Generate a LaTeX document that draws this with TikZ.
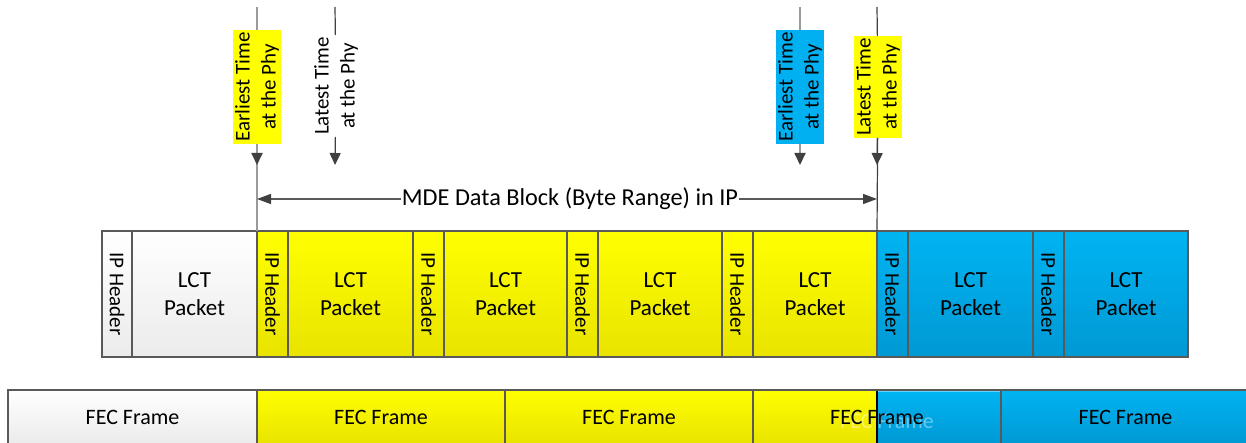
\documentclass[tikz,border=0pt]{standalone}
\usepackage{fontspec}
\setmainfont{Carlito}
\usetikzlibrary{arrows.meta}
\definecolor{ylt}{HTML}{FFFF00}
\definecolor{ydk}{HTML}{E9E300}
\definecolor{blt}{HTML}{00B4F2}
\definecolor{bdk}{HTML}{0099D4}
\definecolor{bsolid}{HTML}{00B0F0}
\definecolor{wdk}{HTML}{EBEBEB}
\definecolor{edge}{HTML}{595959}
\definecolor{lgray}{HTML}{9A9A9A}
\definecolor{dgray}{HTML}{404040}
\newcommand{\iphtext}{\fontsize{21}{24}\selectfont\rotatebox{-90}{IP Header}}
\begin{document}
\begin{tikzpicture}[x=1pt,y=-1pt,
  cell/.style={draw=edge, line width=1.1pt, anchor=north west, minimum height=126pt,
    inner sep=0pt, outer sep=0pt, align=center},
  wcell/.style={cell, top color=white, bottom color=wdk},
  ycell/.style={cell, top color=ylt, bottom color=ydk},
  bcell/.style={cell, top color=blt, bottom color=bdk},
  fcell/.style={draw=edge, line width=1.1pt, anchor=north west, minimum height=54pt,
    inner sep=0pt, outer sep=0pt},
  lct/.style={font=\fontsize{23}{28}\selectfont},
  fect/.style={font=\fontsize{22}{26}\selectfont},
  toplabel/.style={rotate=90, align=center, inner sep=2pt, outer sep=0pt,
    font=\fontsize{21}{26}\selectfont},
  lightline/.style={draw=lgray, line width=1.8pt},
  darkline/.style={draw=dgray, line width=1.2pt},
  downtip/.style={-{Triangle[length=12pt,width=11pt,color=dgray]}},
  htip/.style={draw=edge, line width=1.3pt, -{Triangle[length=14pt,width=10pt,color=dgray]}},
]
\useasboundingbox (0,0) rectangle (1246,443);

% ---- packet row ----
\node[wcell, minimum width=30pt] (ip0) at (102,231) {\iphtext};
\node[wcell, minimum width=125pt, lct] (lct0) at (132,231) {LCT\\Packet};
\node[ycell, minimum width=31pt] (ip1) at (257,231) {\iphtext};
\node[ycell, minimum width=125pt, lct] (lct1) at (288,231) {LCT\\Packet};
\node[ycell, minimum width=31pt] (ip2) at (413,231) {\iphtext};
\node[ycell, minimum width=123pt, lct] (lct2) at (444,231) {LCT\\Packet};
\node[ycell, minimum width=31pt] (ip3) at (567,231) {\iphtext};
\node[ycell, minimum width=124pt, lct] (lct3) at (598,231) {LCT\\Packet};
\node[ycell, minimum width=31pt] (ip4) at (722,231) {\iphtext};
\node[ycell, minimum width=124pt, lct] (lct4) at (753,231) {LCT\\Packet};
\node[bcell, minimum width=31pt] (ip5) at (877,231) {\iphtext};
\node[bcell, minimum width=125pt, lct] (lct5) at (908,231) {LCT\\Packet};
\node[bcell, minimum width=31pt] (ip6) at (1033,231) {\iphtext};
\node[bcell, minimum width=124pt, lct] (lct6) at (1064,231) {LCT\\Packet};

% ---- FEC row ----
\begin{scope}
\clip (0,0) rectangle (1246,443);
\node[fcell, minimum width=249pt, top color=white, bottom color=wdk, fect] (fec0) at (8,390) {FEC Frame};
\node[fcell, minimum width=248pt, top color=ylt, bottom color=ydk, fect] (fec1) at (257,390) {FEC Frame};
\node[fcell, minimum width=248pt, top color=ylt, bottom color=ydk, fect] (fec2) at (505,390) {FEC Frame};
\node[fcell, minimum width=248pt, top color=ylt, bottom color=ydk] (fec3) at (753,390) {};
\node[fcell, draw=none, minimum width=124pt, minimum height=52pt, top color=blt, bottom color=bdk] (fecov) at (877,391) {};
\draw[blt!60!white, line width=1pt] (fecov.north west) -- (fecov.north east);
\node[fect, text=white, opacity=0.4] (ghost) at (887,421) {FEC Frame};
\draw[black, line width=1.1pt] (fecov.north west) -- (fecov.south west);
\node[fect] (fecl) at (fec3.center) {FEC Frame};
\node[fcell, minimum width=249pt, top color=blt, bottom color=bdk, fect] (fec4) at (1001,390) {FEC Frame};
\end{scope}

% ---- time markers ----
\coordinate (t1) at (257,7);
\coordinate (t2) at (335,7);
\coordinate (t3) at (800,7);
\coordinate (t4) at (877,7);
\coordinate (a1) at (257,165);
\coordinate (a2) at (335,165);
\coordinate (a3) at (800,165);
\coordinate (a4) at (877,165);

\node[toplabel, fill=ylt] (e1) at (257,87) {Earliest Time\\at the Phy};
\node[toplabel] (l1) at (336,86) {Latest Time\\at the Phy};
\node[toplabel, fill=bsolid] (e2) at (800,87) {Earliest Time\\at the Phy};
\node[toplabel, fill=ylt] (l2) at (878,87) {Latest Time\\at the Phy};

\draw[lightline] (t1) -- (e1);
\draw[lightline] (e1) -- (ip1.north west);
\draw[lightline, downtip] (e1) -- (a1);

\draw[darkline] (t2) -- (l1);
\draw[darkline, downtip] (l1) -- (a2);

\draw[lightline] (t3) -- (e2);
\draw[lightline, downtip] (e2) -- (a3);

\draw[darkline] (t4) -- (l2);
\draw[darkline] (l2) -- (ip5.north west);
\draw[darkline, downtip] (l2) -- (a4);

% ---- MDE range arrow ----
\coordinate (hl) at (257,199);
\coordinate (hr) at (877,199);
\node[font=\fontsize{24.3}{28}\selectfont, inner sep=1pt] (mde) at (570,199) {MDE Data Block (Byte Range) in IP};
\draw[htip] (mde) -- (hl);
\draw[htip] (mde) -- (hr);
\end{tikzpicture}
\end{document}
